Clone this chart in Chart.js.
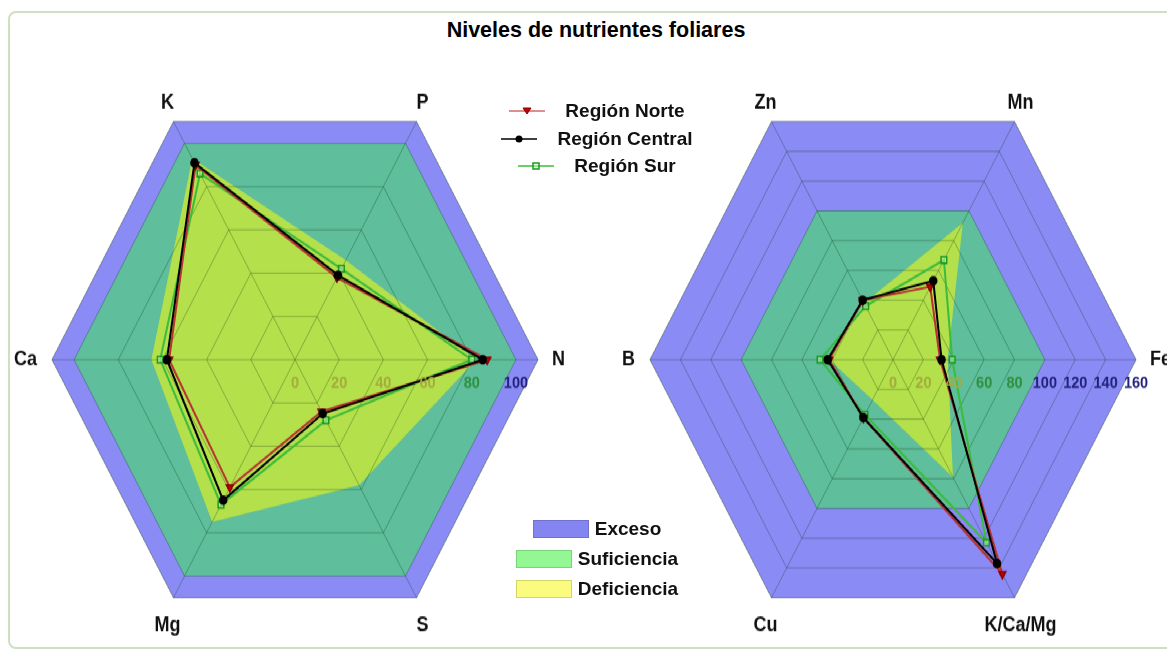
<!DOCTYPE html>
<html>
<head>
<meta charset="utf-8">
<script src="https://cdn.jsdelivr.net/npm/chart.js@4.4.1/dist/chart.umd.min.js"></script>
<style>
  html, body { margin: 0; padding: 0; background: #fff; overflow: hidden; width: 1167px; height: 652px;
    font-family: "Liberation Sans", Arial, sans-serif; }
  #frame { position: absolute; left: 8px; top: 11px; width: 1180px; height: 638px; box-sizing: border-box;
    border: 2px solid #cfe0c2; border-radius: 8px; }
  #title { position: absolute; left: 0; width: 1192px; top: 18px; text-align: center; font-weight: bold; font-size: 21.5px; }
  #stage { position: absolute; left: 0; top: 43.3px; width: 1200px; height: 560px;
    transform: scaleY(1.131); transform-origin: 0 0; }
  #leftChart { position: absolute; left: 0; top: 0; }
  #rightChart { position: absolute; left: 598px; top: 0; }
  .row { position: absolute; left: 447px; width: 300px; display: flex; justify-content: center; align-items: center;
    font-weight: bold; font-size: 19px; color: #111; }
  .row svg { margin-right: 20px; }
  .box { width: 56px; height: 18px; margin-right: 6px; box-sizing: border-box; border: 1px solid rgba(0,0,0,0.15); }
</style>
</head>
<body>
<div id="frame"></div>
<div id="title">Niveles de nutrientes foliares</div>
<div id="stage">
  <canvas id="leftChart" width="590" height="560"></canvas>
  <canvas id="rightChart" width="590" height="560"></canvas>
</div>
<div id="legends"></div>
<script>
const STRETCH = 1.131;

// ejes
const leftAxes = ['N', 'S', 'Mg', 'Ca', 'K', 'P'];
const rightAxes = ['Fe', 'K/Ca/Mg', 'Cu', 'B', 'Zn', 'Mn'];

// macronutrientes
const leftNorte = [87, 24, 59, 57, 90, 38];
const leftCentral = [85, 25, 65, 58, 91, 39];
const leftSur = [80, 28, 67, 61, 86, 42];
const leftDef = [82, 58, 75, 65, 93, 46];
const leftSuf = [100, 100, 100, 100, 100, 100];
const leftExc = [110, 110, 110, 110, 110, 110];
const leftTicks = [0, 20, 40, 60, 80, 100];

// micronutrientes
const rightNorte = [31, 144, 39, 42, 40, 49];
const rightCentral = [32, 137, 39, 43, 40, 53];
const rightSur = [39, 123, 37, 48, 36, 67];
const rightDef = [36, 79, 27, 42, 38, 92];
const rightSuf = [100, 100, 100, 100, 100, 100];
const rightExc = [160, 160, 160, 160, 160, 160];
const rightTicks = [0, 20, 40, 60, 80, 100, 120, 140, 160];

const seriesNames = ['Región Norte', 'Región Central', 'Región Sur'];
const bandNames = ['Exceso', 'Suficiencia', 'Deficiencia'];

const seriesStyle = [
  { line: '#b83232', point: '#8b0000', fill: '#c00000', style: 'triangle', rotation: 180, radius: 4 },
  { line: '#000000', point: '#000000', fill: '#000000', style: 'circle', rotation: 0, radius: 3.5 },
  { line: '#3cbc3c', point: '#1a9a1a', fill: 'rgba(220,255,220,0.4)', style: 'rect', rotation: 0, radius: 4 },
];
const bandColors = ['#8b8bf6', '#5fbe9b', '#b4e04c'];
const bandLegendColors = ['#8585f2', '#93f793', '#fbfb80'];
const tickColors = { def: '#a3ad3c', suf: '#2f8f40', exc: '#22227a' };

// etiquetas de ejes y de valores, y rejilla encima de las bandas
const nutrientLabels = {
  id: 'nutrientLabels',
  afterDatasetDraw(chart, args) {
    if (args.index === 3) chart.scales.r.drawGrid();
  },
  afterDraw(chart, args, opts) {
    const r = chart.scales.r;
    const ctx = chart.ctx;
    ctx.save();
    ctx.font = 'bold 18px "Liberation Sans", Arial, sans-serif';
    ctx.fillStyle = '#111';
    ctx.textBaseline = 'middle';
    chart.data.labels.forEach((lab, i) => {
      const p = r.getPointPosition(i, r.drawingArea);
      const c = Math.cos(p.angle), s = Math.sin(p.angle);
      let x = p.x, y = p.y;
      if (Math.abs(c) > 0.9) {
        ctx.textAlign = c > 0 ? 'left' : 'right';
        x += c > 0 ? 14 : -15;
      } else {
        ctx.textAlign = 'center';
        x += c > 0 ? 6 : -6;
        y += (s < 0 ? -19 : 28) / STRETCH;
      }
      ctx.fillText(lab, x, y);
    });
    ctx.font = 'bold 14.5px "Liberation Sans", Arial, sans-serif';
    ctx.textAlign = 'center';
    opts.ticks.forEach(v => {
      ctx.fillStyle = v <= opts.defUpTo ? tickColors.def : (v < 100 ? tickColors.suf : tickColors.exc);
      ctx.fillText(String(v), r.xCenter + r.getDistanceFromCenterForValue(v), r.yCenter + 24 / STRETCH);
    });
    ctx.restore();
  }
};

function makeChart(id, labels, series, def, suf, exc, max, ticks, defUpTo) {
  const lineSets = series.map((data, i) => ({
    label: seriesNames[i],
    data: data,
    fill: false,
    borderColor: seriesStyle[i].line,
    borderWidth: 2,
    pointStyle: seriesStyle[i].style,
    rotation: seriesStyle[i].rotation,
    pointRadius: seriesStyle[i].radius,
    pointBorderColor: seriesStyle[i].point,
    pointBackgroundColor: seriesStyle[i].fill,
    pointBorderWidth: 1.5,
  }));
  // Central por encima de Norte
  const ordered = [lineSets[1], lineSets[0], lineSets[2]];
  const bands = [def, suf, exc].map((data, i) => ({
    label: bandNames[2 - i],
    data: data,
    fill: 'origin',
    backgroundColor: bandColors[2 - i],
    borderWidth: 0,
    borderColor: 'transparent',
    pointRadius: 0,
  }));
  return new Chart(document.getElementById(id), {
    type: 'radar',
    data: { labels: labels, datasets: ordered.concat(bands) },
    options: {
      responsive: false,
      animation: false,
      layout: { padding: { left: 52, right: 52, top: 37, bottom: 37 } },
      elements: { line: { tension: 0 } },
      plugins: {
        legend: { display: false },
        tooltip: { enabled: false },
        nutrientLabels: { ticks: ticks, defUpTo: defUpTo },
      },
      scales: {
        r: {
          min: 0,
          max: max,
          startAngle: 90,
          ticks: { display: false, stepSize: 20 },
          pointLabels: { display: false },
          grid: { color: 'rgba(0,40,0,0.28)', lineWidth: 1 },
          angleLines: { color: 'rgba(0,40,0,0.28)', lineWidth: 1 },
        },
      },
    },
    plugins: [nutrientLabels],
  });
}

makeChart('leftChart', leftAxes, [leftNorte, leftCentral, leftSur], leftDef, leftSuf, leftExc, 110, leftTicks, 60);
makeChart('rightChart', rightAxes, [rightNorte, rightCentral, rightSur], rightDef, rightSuf, rightExc, 160, rightTicks, 40);

// leyendas
const legends = document.getElementById('legends');
const lineRowsY = [111, 139, 166];
seriesNames.forEach((name, i) => {
  const st = seriesStyle[i];
  let marker;
  if (st.style === 'triangle') marker = `<path d="M14,3 L22,3 L18,9 Z" fill="${st.fill}" stroke="${st.point}" stroke-width="1"/>`;
  else if (st.style === 'circle') marker = `<circle cx="18" cy="6" r="3.5" fill="${st.fill}"/>`;
  else marker = `<rect x="15" y="3" width="6" height="6" fill="${st.fill}" stroke="${st.point}" stroke-width="1.5"/>`;
  const row = document.createElement('div');
  row.className = 'row';
  row.style.top = (lineRowsY[i] - 11) + 'px';
  row.innerHTML = `<svg width="36" height="12"><line x1="0" y1="6" x2="36" y2="6" stroke="${i === 0 ? '#d06a6a' : st.line}" stroke-width="1.5"/>${marker}</svg><span>${name}</span>`;
  legends.appendChild(row);
});
const boxRowsY = [529, 559, 589];
bandNames.forEach((name, i) => {
  const row = document.createElement('div');
  row.className = 'row';
  row.style.top = (boxRowsY[i] - 11) + 'px';
  row.innerHTML = `<div class="box" style="background:${bandLegendColors[i]}"></div><span>${name}</span>`;
  legends.appendChild(row);
});
</script>
</body>
</html>
